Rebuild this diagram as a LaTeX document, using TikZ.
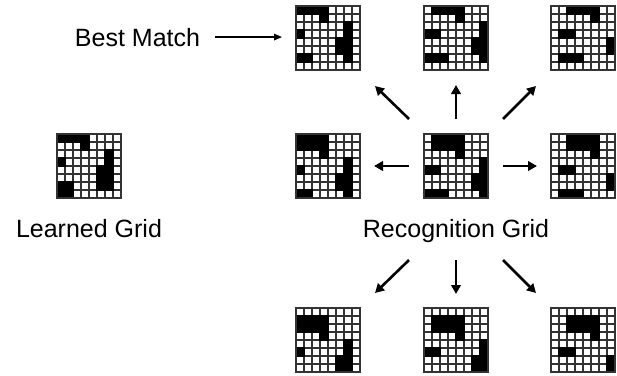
\documentclass[tikz,border=0pt]{standalone}
\usepackage{fontspec}
\setmainfont{Liberation Sans}
\usetikzlibrary{arrows.meta,calc}
\newcommand{\patgrid}[3]{%
  \node[gridnode] (#1) at (#2) {};
  \begin{scope}[shift={(#1.north west)}]
    \foreach \i in {0,...,8}{%
      \draw[gridline] (8*\i,0) -- (8*\i,64);
      \draw[gridline] (0,8*\i) -- (64,8*\i);}
    \foreach \r/\c in {#3}{%
      \fill[cellfill] (8*\c-0.6,8*\r-0.6) rectangle (8*\c+8.6,8*\r+8.6);}
    \draw[gridline,line cap=rect] (0,0) rectangle (64,64);
  \end{scope}}
\begin{document}
\begin{tikzpicture}[x=1pt,y=-1pt,
  gridnode/.style={minimum size=64pt,inner sep=0pt,outer sep=0pt},
  gridline/.style={line width=1.3pt,draw=black!80},
  cellfill/.style={fill=black},
  arr/.style={line width=2.6pt,-{Triangle[length=9pt,width=9.5pt]}},
  arrthin/.style={line width=1.5pt,-{Triangle[length=8pt,width=6.5pt]}},
  lbl/.style={font=\fontsize{25}{30}\selectfont,inner sep=0pt,anchor=base}]
\useasboundingbox (0,0) rectangle (617,375);
% learned grid
\patgrid{lg}{89,166}{0/0,0/1,0/2,0/3,1/3,2/6,3/0,3/6,4/5,4/6,5/5,5/6,6/0,6/1,6/5,6/6,7/0,7/1}
% recognition grid (centre)
\patgrid{c}{456,166}{0/1,0/2,0/3,0/4,1/1,1/2,1/3,1/4,2/4,3/7,4/0,4/1,4/7,5/6,5/7,6/6,6/7,7/0,7/1,7/2,7/7}
% shifted grids
\patgrid{tl}{328,38}{0/0,0/1,0/2,0/3,1/3,2/6,3/0,3/6,4/5,4/6,5/5,5/6,6/0,6/1,6/6}
\patgrid{tm}{456,38}{0/1,0/2,0/3,0/4,1/4,2/7,3/0,3/1,3/7,4/6,4/7,5/6,5/7,6/0,6/1,6/2,6/7}
\patgrid{tr}{583,38}{0/2,0/3,0/4,0/5,1/5,3/1,3/2,4/7,5/7,6/1,6/2,6/3}
\patgrid{l}{328,166}{0/0,0/1,0/2,0/3,1/0,1/1,1/2,1/3,2/3,3/6,4/0,4/6,5/5,5/6,6/5,6/6,7/0,7/1,7/6}
\patgrid{r}{583,166}{0/2,0/3,0/4,0/5,1/2,1/3,1/4,1/5,2/5,4/1,4/2,5/7,6/7,7/1,7/2,7/3}
\patgrid{bl}{328,340}{1/0,1/1,1/2,1/3,2/0,2/1,2/2,2/3,3/3,4/6,5/0,5/6,6/5,6/6,7/5,7/6}
\patgrid{bm}{456,340}{1/1,1/2,1/3,1/4,2/1,2/2,2/3,2/4,3/4,4/7,5/0,5/1,5/7,6/6,6/7,7/6,7/7}
\patgrid{br}{583,340}{1/2,1/3,1/4,1/5,2/2,2/3,2/4,2/5,3/5,5/1,5/2,6/7,7/7}
% labels
\node[lbl] (bmtext) at (137.5,46) {Best Match};
\node[lbl] (lt) at (89,237) {Learned Grid};
\node[lbl] (rt) at (456,237) {Recognition Grid};
% arrows
\draw[arrthin,shorten <=15pt,shorten >=14pt] (bmtext.east) -- (bmtext.east -| tl.west);
\draw[arr] ($(c.north west)+(-15,-15)$) -- ($(tl.south east)+(15,16)$);
\draw[arr] ($(c.north)+(0,-15)$) -- ($(tm.south)+(0,15)$);
\draw[arr] ($(c.north east)+(15,-15)$) -- ($(tr.south west)+(-15,16)$);
\draw[arr] ($(c.west)+(-15,0)$) -- ($(l.east)+(14,0)$);
\draw[arr] ($(c.east)+(15,0)$) -- ($(r.west)+(-14,0)$);
\draw[arr] ($(c.south west)+(-15,62)$) -- ($(bl.north east)+(15,-15)$);
\draw[arr] ($(c.south)+(0,62)$) -- ($(bm.north)+(0,-14)$);
\draw[arr] ($(c.south east)+(15,62)$) -- ($(br.north west)+(-15,-15)$);
\end{tikzpicture}
\end{document}
